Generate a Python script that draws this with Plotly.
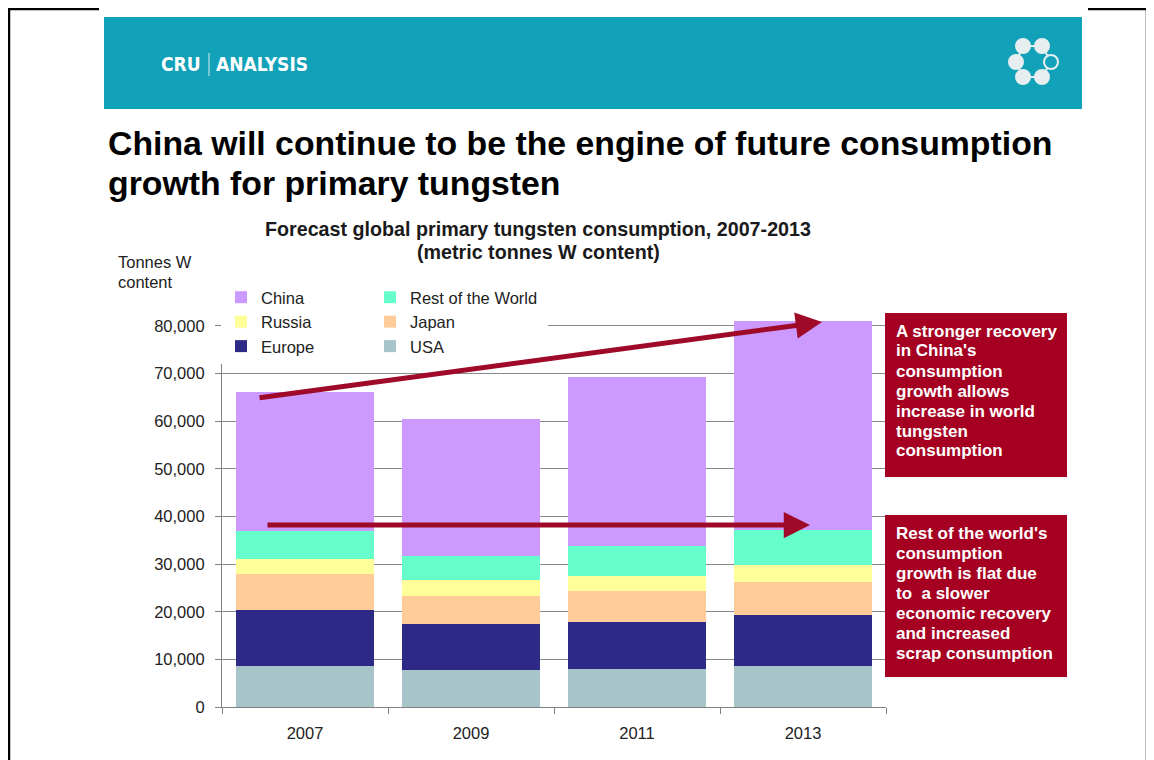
import plotly.graph_objects as go

# ---------------- data ----------------
years = ["2007", "2009", "2011", "2013"]
usa = [8700, 7700, 8050, 8700]
europe = [11750, 9800, 9750, 10700]
japan = [7450, 5800, 6600, 6850]
russia = [3200, 3300, 3150, 3500]
rest_of_world = [5950, 5200, 6250, 7350]
china = [29050, 28700, 35500, 43900]

y_ticks = [0, 10000, 20000, 30000, 40000, 50000, 60000, 70000, 80000]

# page body has an 8px margin: figure fills the rest of the window
OFF = 8
W, H = 1154 - OFF, 760 - OFF


def px(x):
    return (x - OFF) / W


def py(y):
    return 1 - (y - OFF) / H


FONT = "Liberation Sans, Arial, sans-serif"

series = [
    # name, values, color, legend, rank
    ("USA", usa, "#A7C5C9", "legend2", 6),
    ("Europe", europe, "#2C2A86", "legend", 5),
    ("Japan", japan, "#FFCC99", "legend2", 4),
    ("Russia", russia, "#FFFF99", "legend", 3),
    ("Rest of the World", rest_of_world, "#66FFCC", "legend2", 2),
    ("China", china, "#CC99FF", "legend", 1),
]

fig = go.Figure()
for name, vals, col, leg, rank in series:
    fig.add_trace(go.Bar(
        x=years, y=vals, name=name, marker=dict(color=col, line=dict(width=0)),
        legend=leg, legendrank=rank, legendgroup=name,
        hovertemplate="%{x}: %{y:,}<extra>" + name + "</extra>",
    ))

shapes = []
annotations = []

# page frame
shapes.append(dict(type="rect", xref="paper", yref="paper", x0=px(9), x1=px(1147), y0=py(790), y1=py(9),
                   line=dict(color="black", width=2.5), fillcolor="rgba(0,0,0,0)", layer="below"))
# white surround of header, teal header
shapes.append(dict(type="rect", xref="paper", yref="paper", x0=px(99), x1=px(1088), y0=py(114), y1=py(0),
                   line=dict(width=0), fillcolor="white", layer="below"))
shapes.append(dict(type="rect", xref="paper", yref="paper", x0=px(104), x1=px(1082), y0=py(109), y1=py(17),
                   line=dict(width=0), fillcolor="#11A1B8", layer="below"))

# white backing of the legend area (hides the gridline under the legend)
shapes.append(dict(type="rect", xref="paper", yref="paper", x0=px(228), x1=px(548), y0=py(358), y1=py(288),
                   line=dict(width=0), fillcolor="white", layer="above"))

# logo: ring of small circles
logo_pts = [(1023, 46), (1042, 46), (1016, 62), (1051, 62), (1023, 77), (1042, 77)]
order = [0, 1, 3, 5, 4, 2, 0]
for a, b in zip(order[:-1], order[1:]):
    (x0, y0), (x1, y1) = logo_pts[a], logo_pts[b]
    shapes.append(dict(type="line", xref="paper", yref="paper", x0=px(x0), y0=py(y0), x1=px(x1), y1=py(y1),
                       line=dict(color="#E6EEF0", width=2)))
for i, (cx, cy) in enumerate(logo_pts):
    r = 7
    hollow = (i == 3)
    shapes.append(dict(type="circle", xref="paper", yref="paper", x0=px(cx - r), x1=px(cx + r),
                       y0=py(cy + r), y1=py(cy - r),
                       line=dict(color="#E6EEF0", width=2),
                       fillcolor="#11A1B8" if hollow else "#E6EEF0"))

# header text
HFONT = "DejaVu Sans Condensed, Liberation Sans Narrow, sans-serif"
annotations.append(dict(text="<b>CRU</b>", xref="paper", yref="paper", x=px(203), y=py(64),
                        xanchor="right", yanchor="middle", showarrow=False,
                        font=dict(family=HFONT, size=19, color="white")))
shapes.append(dict(type="line", xref="paper", yref="paper", x0=px(209), x1=px(209), y0=py(53), y1=py(76),
                   line=dict(color="#D8EEF2", width=1)))
annotations.append(dict(text="<b>ANALYSIS</b>", xref="paper", yref="paper", x=px(214), y=py(64),
                        xanchor="left", yanchor="middle", showarrow=False,
                        font=dict(family=HFONT, size=19, color="white")))

# main title
for txt, yy in [("China will continue to be the engine of future consumption", 143),
                ("growth for primary tungsten", 183)]:
    annotations.append(dict(text="<b>" + txt + "</b>", xref="paper", yref="paper", x=px(106), y=py(yy),
                            xanchor="left", yanchor="middle", showarrow=False,
                            font=dict(family=FONT, size=33.8, color="black")))

# chart title
for txt, yy in [("Forecast global primary tungsten consumption, 2007-2013", 229),
                ("(metric tonnes W content)", 252)]:
    annotations.append(dict(text="<b>" + txt + "</b>", xref="paper", yref="paper", x=px(538), y=py(yy),
                            xanchor="center", yanchor="middle", showarrow=False,
                            font=dict(family=FONT, size=19.7, color="#1a1a1a")))

# y axis title
for txt, yy in [("Tonnes W", 262), ("content", 282)]:
    annotations.append(dict(text=txt, xref="paper", yref="paper", x=px(116), y=py(yy),
                            xanchor="left", yanchor="middle", showarrow=False,
                            font=dict(family=FONT, size=16.5, color="#222")))

# arrows
ARROW = "#9E0A28"
annotations.append(dict(text="", xref="paper", yref="paper", x=px(822), y=py(322),
                        axref="pixel", ayref="pixel", ax=258 - 822, ay=398 - 322,
                        showarrow=True, arrowhead=2, arrowsize=1.05, arrowwidth=5, arrowcolor=ARROW))
annotations.append(dict(text="", xref="paper", yref="paper", x=px(810), y=py(525),
                        axref="pixel", ayref="pixel", ax=266 - 810, ay=0,
                        showarrow=True, arrowhead=2, arrowsize=1.05, arrowwidth=5, arrowcolor=ARROW))

# callout boxes
BOX = "#A50021"
boxes = [
    (313, 477, ["A stronger recovery", "in China's", "consumption", "growth allows",
                "increase in world", "tungsten", "consumption"]),
    (515, 677, ["Rest of the world's", "consumption", "growth is flat due", "to  a slower",
                "economic recovery", "and increased", "scrap consumption"]),
]
for top, bot, lines in boxes:
    shapes.append(dict(type="rect", xref="paper", yref="paper", x0=px(885), x1=px(1067), y0=py(bot), y1=py(top),
                       line=dict(width=0), fillcolor=BOX))
    for i, ln in enumerate(lines):
        annotations.append(dict(text="<b>" + ln.replace("  ", "&nbsp; ") + "</b>", xref="paper", yref="paper",
                                x=px(894), y=py(top + 18 + 20 * i),
                                xanchor="left", yanchor="middle", showarrow=False,
                                font=dict(family=FONT, size=17, color="white")))

legend_common = dict(
    orientation="v", traceorder="grouped", tracegroupgap=0,
    bgcolor="white", borderwidth=0, yanchor="top", xanchor="left",
    font=dict(family=FONT, size=16.5, color="#222"),
    itemclick=False, itemdoubleclick=False,
)

fig.update_layout(
    width=W, height=H, autosize=False,
    margin=dict(l=0, r=0, t=0, b=0, autoexpand=False),
    paper_bgcolor="white", plot_bgcolor="white",
    barmode="stack", bargap=0.163,
    font=dict(family=FONT, size=16.5, color="#222"),
    shapes=shapes, annotations=annotations,
    legend=dict(x=px(221), y=py(280), **legend_common),
    legend2=dict(x=px(370), y=py(280), **legend_common),
    xaxis=dict(domain=[px(222), px(886)], showline=True, linecolor="#808080", linewidth=1.2,
               tickson="boundaries", ticks="outside", ticklen=6, tickcolor="#808080",
               ticklabelstandoff=11, showgrid=False, fixedrange=True, automargin=False,
               tickfont=dict(family=FONT, size=16.5, color="#222")),
    yaxis=dict(domain=[py(707), py(315)], range=[0, 82300], showline=True, linecolor="#808080", linewidth=1.2,
               tickvals=y_ticks, tickformat=",", ticks="outside", ticklen=6, tickcolor="#808080",
               ticklabelstandoff=7, showgrid=True, gridcolor="#8a8a8a", gridwidth=1,
               zeroline=False, fixedrange=True, automargin=False,
               tickfont=dict(family=FONT, size=16.5, color="#222")),
)

fig.write_html("out.html")
